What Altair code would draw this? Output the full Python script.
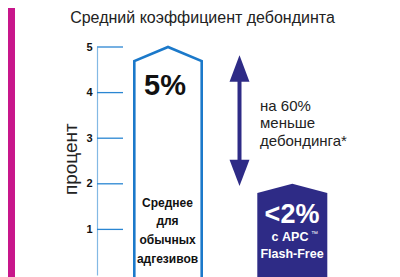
import altair as alt
import pandas as pd

# ---------------- data ----------------
title_text = "Средний коэффициент дебондинта"
y_title = "процент"
tick_values = [1, 2, 3, 4, 5]
values = [5, 2]                       # average debond rate, percent
value_labels = ["5%", "<2%"]
bar1_lines = ["Среднее", "для", "обычных", "адгезивов"]
bar2_lines = ["с APC", "Flash-Free"]
trademark = "™"
note_lines = ["на 60%", "меньше", "дебондинга*"]

# ---------------- layout (x units = px right of the axis, y = data units) ----------------
FONT = "Liberation Sans"
MAGENTA = "#C8168B"
AXIS_BLUE = "#83B9E4"
TICK_BLUE = "#2A86D2"
BAR1_BLUE = "#1B79CA"
NAVY = "#2E2B86"
TXT = "#222222"

b1_left, b1_right, b1_drop = 37.3, 104.7, 0.31
b2_left, b2_right, b2_drop = 160.3, 230.3, 0.2
bottom = -0.7
arrow_x, arrow_hw = 142.5, 10
arrow_top, arrow_bot, head_len = 4.82, 1.95, 0.58

xs = alt.Scale(domain=[0, 290], nice=False, zero=False)
ys = alt.Scale(domain=[0, 5], nice=False, zero=False)
yaxis = alt.Axis(values=tick_values, ticks=False, grid=False, title=None,
                 domainColor=AXIS_BLUE, domainWidth=1.2, labelFont=FONT,
                 labelFontSize=11, labelFontWeight="bold", labelColor="#111",
                 labelPadding=5)


def X(f="x"):
    return alt.X(f"{f}:Q", scale=xs, axis=None)


def Y(f="y"):
    return alt.Y(f"{f}:Q", scale=ys, axis=yaxis)


# magenta strip on the left
strip = alt.Chart(pd.DataFrame({"x": [-89], "x2": [-82], "y": [-1], "y2": [7]})).mark_rect(
    color=MAGENTA).encode(x=X(), x2="x2:Q", y=Y(), y2="y2:Q")

# tick rules
ticks = alt.Chart(pd.DataFrame({"y": tick_values, "x": [0] * 5, "x2": [26] * 5})).mark_rule(
    color=TICK_BLUE, strokeWidth=1.3).encode(x=X(), x2="x2:Q", y=Y())

# bar 1 outline (house shape)
v1 = values[0]
b1 = pd.DataFrame({
    "x": [b1_left, b1_left, (b1_left + b1_right) / 2, b1_right, b1_right],
    "y": [bottom, v1 - b1_drop, v1, v1 - b1_drop, bottom],
    "o": [0, 1, 2, 3, 4]})
bar1 = alt.Chart(b1).mark_line(color=BAR1_BLUE, strokeWidth=2.6, strokeJoin="miter").encode(
    x=X(), y=Y(), order="o:Q")

# bar 2 filled house
v2 = values[1]
b2 = pd.DataFrame({
    "x": [b2_left, (b2_left + b2_right) / 2, b2_right],
    "y": [v2 - b2_drop, v2, v2 - b2_drop],
    "y2": [bottom] * 3})
bar2 = alt.Chart(b2).mark_area(color=NAVY, opacity=1).encode(x=X(), y=Y(), y2="y2:Q")

# double arrow
heads = pd.DataFrame({
    "x": [arrow_x - arrow_hw, arrow_x, arrow_x + arrow_hw] * 2,
    "y": [arrow_top - head_len, arrow_top, arrow_top - head_len,
          arrow_bot + head_len, arrow_bot, arrow_bot + head_len],
    "y2": [arrow_top - head_len] * 3 + [arrow_bot + head_len] * 3,
    "g": ["up"] * 3 + ["down"] * 3})
arrow_heads = alt.Chart(heads).mark_area(color=NAVY, opacity=1).encode(
    x=X(), y=Y(), y2="y2:Q", detail="g:N")
shaft = alt.Chart(pd.DataFrame({"x": [arrow_x], "y": [arrow_top - head_len + 0.05],
                                "y2": [arrow_bot + head_len - 0.05]})).mark_rule(
    color=NAVY, strokeWidth=4).encode(x=X(), y=Y(), y2="y2:Q")

# texts
title = alt.Chart(pd.DataFrame({"x": [105.5], "y": [5.53], "t": [title_text]})).mark_text(
    font=FONT, fontSize=16, color=TXT, align="center", baseline="alphabetic").encode(
    x=X(), y=Y(), text="t:N")

ytitle = alt.Chart(pd.DataFrame({"x": [-20], "y": [2.54], "t": [y_title]})).mark_text(
    font=FONT, fontSize=19, color=TXT, align="center", baseline="alphabetic", angle=270).encode(
    x=X(), y=Y(), text="t:N")

big1 = alt.Chart(pd.DataFrame({"x": [68], "y": [3.95], "t": [value_labels[0]]})).mark_text(
    font=FONT, fontSize=29, fontWeight="bold", color="#111", align="center",
    baseline="alphabetic").encode(x=X(), y=Y(), text="t:N")

lab1 = alt.Chart(pd.DataFrame({"x": [70.5] * 4, "y": [1.50, 1.096, 0.68, 0.274],
                               "t": bar1_lines})).mark_text(
    font=FONT, fontSize=12, fontWeight="bold", color="#111", align="center",
    baseline="alphabetic").encode(x=X(), y=Y(), text="t:N")

big2 = alt.Chart(pd.DataFrame({"x": [195], "y": [1.15], "t": [value_labels[1]]})).mark_text(
    font=FONT, fontSize=27, fontWeight="bold", color="white", align="center",
    baseline="alphabetic").encode(x=X(), y=Y(), text="t:N")

lab2 = alt.Chart(pd.DataFrame({"x": [193, 195], "y": [0.75, 0.37], "t": bar2_lines})).mark_text(
    font=FONT, fontSize=12.5, fontWeight="bold", color="white", align="center",
    baseline="alphabetic").encode(x=X(), y=Y(), text="t:N")

tm = alt.Chart(pd.DataFrame({"x": [214], "y": [0.86], "t": [trademark]})).mark_text(
    font=FONT, fontSize=7, color="white", align="left",
    baseline="alphabetic").encode(x=X(), y=Y(), text="t:N")

note = alt.Chart(pd.DataFrame({"x": [163] * 3, "y": [3.596, 3.217, 2.838],
                               "t": note_lines})).mark_text(
    font=FONT, fontSize=15, color=TXT, align="left", baseline="alphabetic").encode(
    x=X(), y=Y(), text="t:N")

chart = alt.layer(strip, ticks, bar1, bar2, shaft, arrow_heads, title, ytitle,
                  big1, lab1, big2, lab2, tm, note).properties(
    width=290, height=228,
    autosize=alt.AutoSizeParams(type="none"),
    padding={"left": 89, "top": 39, "right": 0, "bottom": 12},
    background="white",
).configure_view(stroke=None)

chart.save("out.html", embed_options={"renderer": "svg", "actions": False})
